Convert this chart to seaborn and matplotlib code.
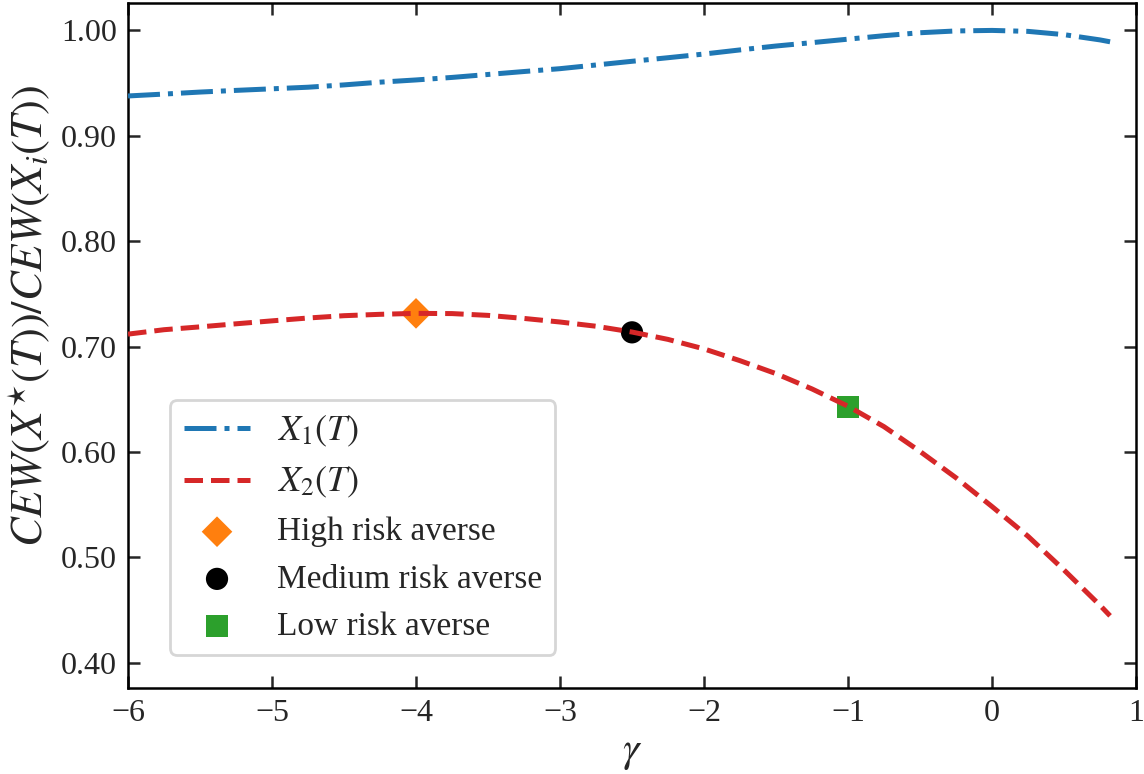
import numpy as np
import pandas as pd
import matplotlib
matplotlib.use("Agg")
import matplotlib.pyplot as plt
import seaborn as sns
from matplotlib.ticker import FormatStrFormatter

# ---- data ----
gamma = [-6.00, -5.75, -5.50, -5.25, -5.00, -4.75, -4.50, -4.25, -4.00, -3.75,
         -3.50, -3.25, -3.00, -2.75, -2.50, -2.25, -2.00, -1.75, -1.50, -1.25,
         -1.00, -0.75, -0.50, -0.25, 0.00, 0.25, 0.50, 0.75, 0.82]
x1_ratio = [0.9378, 0.9396, 0.9415, 0.9431, 0.9446, 0.9461, 0.9483, 0.9509, 0.9530, 0.9554,
            0.9582, 0.9610, 0.9637, 0.9672, 0.9707, 0.9741, 0.9776, 0.9815, 0.9852, 0.9884,
            0.9917, 0.9950, 0.9978, 0.9995, 1.0000, 0.9991, 0.9960, 0.9910, 0.9892]
x2_ratio = [0.7118, 0.7160, 0.7187, 0.7216, 0.7244, 0.7271, 0.7293, 0.7306, 0.7315, 0.7313,
            0.7296, 0.7267, 0.7233, 0.7193, 0.7138, 0.7068, 0.6978, 0.6866, 0.6743, 0.6598,
            0.6434, 0.6240, 0.6005, 0.5755, 0.5482, 0.5200, 0.4880, 0.4545, 0.4445]

point_labels = ["High risk averse", "Medium risk averse", "Low risk averse"]
point_gamma = [-4.0, -2.5, -1.0]
point_ratio = [0.7315, 0.7135, 0.6425]
point_markers = ["D", "o", "s"]
point_colors = ["#ff7f0e", "#000000", "#2ca02c"]

xticks = [-6, -5, -4, -3, -2, -1, 0, 1]
yticks = [0.40, 0.50, 0.60, 0.70, 0.80, 0.90, 1.00]

sns.set_style("ticks")
plt.rcParams["font.family"] = ["serif"]
plt.rcParams["font.serif"] = ["Liberation Serif", "DejaVu Serif"]
plt.rcParams["mathtext.fontset"] = "stix"

fig = plt.figure(figsize=(5.72, 3.87), dpi=200)
ax = fig.add_axes([0.1119, 0.1111, 0.993 - 0.1119, 0.9961 - 0.1111])

df = pd.DataFrame({"gamma": gamma, "x1": x1_ratio, "x2": x2_ratio})

# markers (drawn below lines)
sizes = [7.8, 8.0, 8.0]
for lab, gx, gy, mk, c, ms in zip(point_labels, point_gamma, point_ratio, point_markers, point_colors, sizes):
    sns.scatterplot(x=[gx], y=[gy], marker=mk, color=c, s=ms ** 2, linewidth=0,
                    edgecolor="none", ax=ax, label=lab, zorder=2)

sns.lineplot(data=df, x="gamma", y="x1", ax=ax, color="#1f77b4", linestyle="-.",
             linewidth=1.8, label=r"$X_1(T)$", zorder=3)
sns.lineplot(data=df, x="gamma", y="x2", ax=ax, color="#d62728", linestyle="--",
             linewidth=1.8, label=r"$X_2(T)$", zorder=3)

ax.set_xlim(-6, 1)
ax.set_ylim(0.376, 1.026)
ax.set_xticks(xticks)
ax.set_yticks(yticks)
ax.yaxis.set_major_formatter(FormatStrFormatter("%.2f"))
ax.tick_params(direction="in", top=True, right=True, length=4.3, width=0.9,
               labelsize=11.5, pad=4)
for s in ax.spines.values():
    s.set_linewidth(0.9)
    s.set_color("black")

ax.set_xlabel(r"$\gamma$", fontsize=15, labelpad=2)
ax.set_ylabel(r"$CEW(X^{\star}(T))/CEW(X_i(T))$", fontsize=16, labelpad=3, y=0.543)

handles, labels = ax.get_legend_handles_labels()
order = [labels.index(r"$X_1(T)$"), labels.index(r"$X_2(T)$")] + [labels.index(l) for l in point_labels]
leg = ax.legend([handles[i] for i in order], [labels[i] for i in order],
                loc="lower left", bbox_to_anchor=(0.042, 0.048), borderaxespad=0,
                fontsize=12, frameon=True, fancybox=True, edgecolor="0.8",
                handlelength=2.0, scatterpoints=1)
for t in leg.get_texts()[:2]:
    t.set_fontsize(13)

fig.savefig("out.png", dpi=200)
